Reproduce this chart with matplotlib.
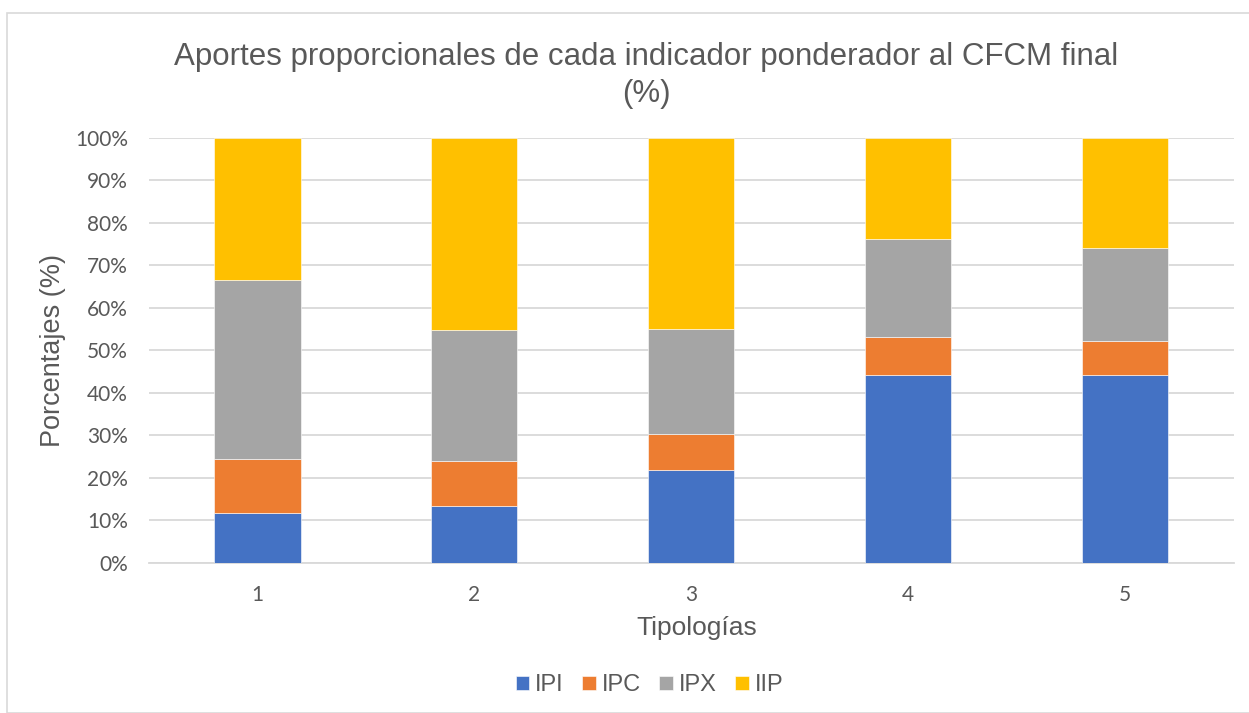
# Aportes proporcionales de cada indicador ponderador al CFCM final

import matplotlib
matplotlib.use('Agg')

import numpy as np
import matplotlib.pyplot as plt
from matplotlib.patches import Rectangle

plt.rcParams['font.family'] = ['Liberation Sans', 'DejaVu Sans']

# Datos (%)
tipologias = ['1', '2', '3', '4', '5']
ipi = [11.8, 13.4, 21.8, 44.3, 44.1]
ipc = [12.7, 10.5, 8.4, 8.9, 8.0]
ipx = [42.1, 30.9, 24.8, 23.0, 21.9]
iip = [33.4, 45.2, 45.0, 23.8, 26.0]

series = [('IPI', ipi, '#4472C4'), ('IPC', ipc, '#ED7D31'),
          ('IPX', ipx, '#A5A5A5'), ('IIP', iip, '#FFC000')]

gris = '#595959'

fig = plt.figure(figsize=(12.49, 7.13), dpi=100)
ax = fig.add_axes([0.119, 0.2108, 0.8686, 0.5957])

# marco del grafico
fig.patches.append(Rectangle((7 / 1249, 0), 1.0, 1 - 13 / 713, transform=fig.transFigure,
                             fill=False, edgecolor='#D9D9D9', linewidth=1.2))

x = np.arange(len(tipologias))
base = np.zeros(len(tipologias))
for nombre, vals, color in series:
    ax.bar(x, vals, 0.4, bottom=base, color=color, label=nombre,
           edgecolor='white', linewidth=0.4, zorder=3)
    base += np.array(vals)

ax.set_xlim(-0.5, len(tipologias) - 0.5)
ax.set_ylim(0, 100)
ax.set_yticks(np.arange(0, 101, 10))
ax.set_yticklabels([f'{v}%' for v in range(0, 101, 10)])
ax.set_xticks(x)
ax.set_xticklabels(tipologias)
ax.yaxis.grid(True, color='#D9D9D9', linewidth=1.3, zorder=0)
ax.set_axisbelow(True)
for s in ['top', 'right', 'left']:
    ax.spines[s].set_visible(False)
ax.spines['bottom'].set_color('#D9D9D9')
ax.spines['bottom'].set_linewidth(1.3)
ax.tick_params(axis='both', length=0, colors=gris)
ax.tick_params(axis='y', pad=15)
ax.tick_params(axis='x', pad=16)
for lab in ax.get_xticklabels() + ax.get_yticklabels():
    lab.set_fontfamily(['Lato', 'DejaVu Sans'])
    lab.set_fontsize(15)

ax.set_ylabel('Porcentajes (%)', fontsize=19.5, color=gris, labelpad=6)
ax.set_xlabel('Tipologías', fontsize=19, color=gris)
ax.xaxis.set_label_coords(0.505, -0.153)
ax.xaxis.label.set_va('center')

fig.text(0.5176, 0.8935, 'Aportes proporcionales de cada indicador ponderador al CFCM final\n(%)',
         ha='center', va='center', fontsize=22.5, color=gris, linespacing=1.3)

fig.legend(loc='center', bbox_to_anchor=(0.52, 0.039), ncol=4, frameon=False,
           fontsize=17, handlelength=0.57, handleheight=0.57, handletextpad=0.26,
           columnspacing=0.78, labelcolor=gris)

plt.savefig('out.png', dpi=100)
